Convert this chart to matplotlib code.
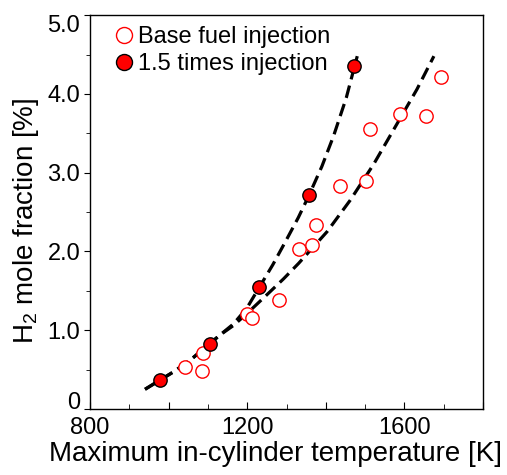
import matplotlib
matplotlib.use("Agg")
import matplotlib.pyplot as plt
import matplotlib.transforms as mtransforms
from matplotlib.ticker import MultipleLocator, FixedLocator, FixedFormatter

plt.rcParams['font.family'] = ['Liberation Sans', 'DejaVu Sans']
plt.rcParams['mathtext.fontset'] = 'custom'
plt.rcParams['mathtext.rm'] = 'Liberation Sans'

# base fuel injection (open circles)
base_temp = [1042, 1087, 1084, 1199, 1212, 1280, 1333, 1366, 1376,
             1437, 1503, 1512, 1588, 1656, 1694]
base_h2 = [0.53, 0.71, 0.48, 1.21, 1.15, 1.39, 2.03, 2.08, 2.34,
           2.83, 2.89, 3.55, 3.75, 3.72, 4.22]

# 1.5 times injection (filled circles)
x15_temp = [977, 1106, 1229, 1356, 1473]
x15_h2 = [0.37, 0.83, 1.55, 2.72, 4.35]

# dashed trend lines
fit15_temp = [940, 1012, 1055, 1131, 1165, 1199, 1229, 1265, 1300, 1330, 1356, 1390, 1420, 1452, 1480]
fit15_h2 = [0.25, 0.47, 0.62, 0.94, 1.08, 1.28, 1.53, 1.83, 2.15, 2.43, 2.70, 3.08, 3.47, 3.95, 4.48]
fitbase_temp = [940, 1012, 1055, 1131, 1165, 1199, 1250, 1292, 1331, 1403, 1462, 1522, 1573, 1632, 1675]
fitbase_h2 = [0.25, 0.47, 0.62, 0.94, 1.06, 1.21, 1.45, 1.65, 1.85, 2.25, 2.65, 3.11, 3.55, 4.06, 4.48]

fig = plt.figure(figsize=(5.07, 4.75), dpi=100)
ax = fig.add_axes([0.1775, 0.139, 0.7752, 0.829])

dash = (0, (4, 2.0))
ax.plot(fitbase_temp, fitbase_h2, color='black', lw=2.3, linestyle=dash, zorder=2)
ax.plot(fit15_temp, fit15_h2, color='black', lw=2.3, linestyle=dash, zorder=2)

ax.plot(base_temp, base_h2, 'o', ms=9.6, mfc='white', mec='#ff0000', mew=1.0,
        linestyle='none', label='Base fuel injection', zorder=3)
ax.plot(x15_temp, x15_h2, 'o', ms=9.6, mfc='#ff0000', mec='black', mew=1.0,
        linestyle='none', label='1.5 times injection', zorder=4)

ax.set_xlim(800, 1800)
ax.set_ylim(0, 5)

ax.xaxis.set_major_locator(FixedLocator([800, 1000, 1200, 1400, 1600, 1800]))
ax.xaxis.set_major_formatter(FixedFormatter(['800', '', '1200', '', '1600', '']))
ax.xaxis.set_minor_locator(MultipleLocator(100))
ax.yaxis.set_major_locator(FixedLocator([0, 1, 2, 3, 4, 5]))
ax.yaxis.set_major_formatter(FixedFormatter(['0', '1.0', '2.0', '3.0', '4.0', '5.0']))
ax.yaxis.set_minor_locator(MultipleLocator(0.5))

ax.tick_params(axis='x', which='both', direction='in', top=False, labelsize=17, pad=6)
ax.tick_params(axis='x', which='major', length=5)
ax.tick_params(axis='x', which='minor', length=3.5)
ax.tick_params(axis='y', which='both', direction='out', right=False, labelsize=17, pad=3)
ax.tick_params(axis='y', which='major', length=4)
ax.tick_params(axis='y', which='minor', length=3)

for s in ax.spines.values():
    s.set_linewidth(1.0)

ax.set_xlabel('Maximum in-cylinder temperature [K]', fontsize=20, labelpad=1)
ax.set_ylabel('H$_2$ mole fraction [%]', fontsize=20, labelpad=5)
ax.xaxis.label.set_x(0.471)
ax.yaxis.label.set_y(0.477)

ax.legend(loc='upper left', bbox_to_anchor=(0.015, 1.015), frameon=False,
          fontsize=17, markerscale=1.2, handletextpad=0.1, labelspacing=0.22,
          handlelength=1.0, borderaxespad=0.3)

# end labels on the y axis sit slightly inside the frame in the original
fig.canvas.draw()
ylabs = ax.get_yticklabels()
ylabs[0].set_transform(ylabs[0].get_transform() +
                       mtransforms.ScaledTranslation(0, 6 / 72, fig.dpi_scale_trans))
ylabs[-1].set_transform(ylabs[-1].get_transform() +
                        mtransforms.ScaledTranslation(0, -6 / 72, fig.dpi_scale_trans))

fig.savefig('out.png', dpi=100)
